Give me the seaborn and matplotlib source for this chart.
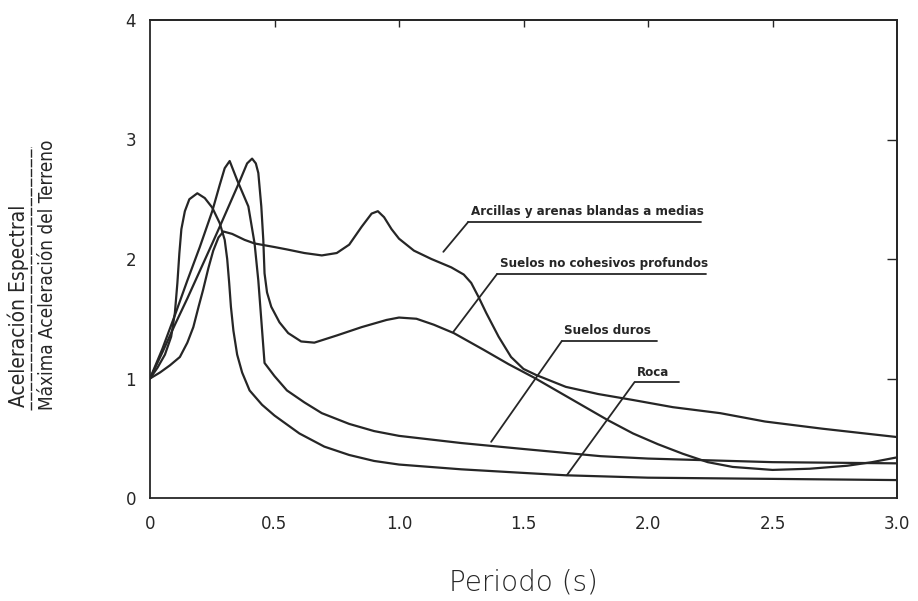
"""Espectros de respuesta normalizados por tipo de suelo (recreación con seaborn)."""

import pandas as pd
import matplotlib.pyplot as plt
from matplotlib.lines import Line2D
import seaborn as sns

# Valores: periodo (s) y aceleración espectral normalizada
roca_t = [0.00, 0.03, 0.06, 0.085, 0.10, 0.11, 0.118, 0.126, 0.14, 0.158, 0.19,
          0.22, 0.25, 0.28, 0.30, 0.31, 0.318, 0.325, 0.335, 0.35, 0.37, 0.40, 0.45,
          0.50, 0.60, 0.70, 0.80, 0.90, 1.00, 1.25, 1.50, 1.67, 2.00, 2.50, 3.00]
roca_sa = [1.00, 1.09, 1.20, 1.35, 1.55, 1.80, 2.05, 2.25, 2.40, 2.50, 2.55,
           2.51, 2.43, 2.30, 2.16, 2.00, 1.80, 1.60, 1.40, 1.20, 1.05, 0.90, 0.78,
           0.69, 0.54, 0.43, 0.36, 0.31, 0.28, 0.24, 0.21, 0.19, 0.17, 0.16, 0.15]

duros_t = [0.00, 0.05, 0.10, 0.15, 0.20, 0.25, 0.28, 0.30, 0.32, 0.35, 0.395, 0.42,
           0.435, 0.447, 0.46, 0.50, 0.55, 0.62, 0.69, 0.80, 0.90, 1.00, 1.25, 1.50,
           1.81, 2.00, 2.50, 3.00]
duros_sa = [1.00, 1.25, 1.53, 1.82, 2.10, 2.40, 2.62, 2.76, 2.82, 2.66, 2.44, 2.13,
            1.82, 1.49, 1.13, 1.02, 0.90, 0.80, 0.71, 0.62, 0.56, 0.52, 0.46, 0.41,
            0.35, 0.33, 0.30, 0.29]

nocoh_t = [0.00, 0.05, 0.10, 0.15, 0.20, 0.25, 0.28, 0.32, 0.36, 0.39, 0.41, 0.425,
           0.435, 0.447, 0.455, 0.46, 0.47, 0.487, 0.52, 0.555, 0.607, 0.66, 0.75,
           0.85, 0.95, 1.00, 1.07, 1.14, 1.22, 1.34, 1.44, 1.54, 1.64, 1.74, 1.84,
           1.94, 2.04, 2.14, 2.24, 2.34, 2.50, 2.65, 2.80, 2.90, 3.00]
nocoh_sa = [1.00, 1.22, 1.45, 1.67, 1.90, 2.13, 2.27, 2.46, 2.65, 2.80, 2.84, 2.80,
            2.72, 2.44, 2.16, 1.88, 1.72, 1.60, 1.47, 1.38, 1.31, 1.30, 1.36,
            1.43, 1.49, 1.51, 1.50, 1.45, 1.38, 1.24, 1.12, 1.01, 0.89, 0.77, 0.65,
            0.54, 0.45, 0.37, 0.30, 0.26, 0.235, 0.245, 0.27, 0.30, 0.34]

arcillas_t = [0.00, 0.04, 0.08, 0.12, 0.15, 0.174, 0.195, 0.213, 0.234, 0.254, 0.275,
              0.295, 0.33, 0.38, 0.42, 0.50, 0.55, 0.62, 0.69, 0.75, 0.80, 0.85, 0.89,
              0.915, 0.94, 0.97, 1.00, 1.06, 1.13, 1.21, 1.26, 1.29, 1.32, 1.35, 1.40,
              1.45, 1.50, 1.55, 1.67, 1.80, 1.94, 2.10, 2.29, 2.47, 2.70, 3.00]
arcillas_sa = [1.00, 1.05, 1.11, 1.18, 1.30, 1.43, 1.60, 1.74, 1.92, 2.07, 2.18,
               2.23, 2.21, 2.16, 2.13, 2.10, 2.08, 2.05, 2.03, 2.05, 2.12, 2.27, 2.38,
               2.40, 2.35, 2.25, 2.17, 2.07, 2.00, 1.93, 1.87, 1.80, 1.68, 1.55, 1.35,
               1.18, 1.08, 1.03, 0.93, 0.87, 0.82, 0.76, 0.71, 0.64, 0.58, 0.51]

suelos = ["Roca", "Suelos duros", "Suelos no cohesivos profundos",
          "Arcillas y arenas blandas a medias"]
x_ticks = [0, 0.5, 1.0, 1.5, 2.0, 2.5, 3.0]
x_tick_labels = ["0", "0.5", "1.0", "1.5", "2.0", "2.5", "3.0"]
y_ticks = [0, 1, 2, 3, 4]

# Tabla larga para seaborn
series = [(roca_t, roca_sa), (duros_t, duros_sa), (nocoh_t, nocoh_sa), (arcillas_t, arcillas_sa)]
frames = []
for nombre, (t, sa) in zip(suelos, series):
    frames.append(pd.DataFrame({"periodo": t, "sa": sa, "suelo": nombre}))
df = pd.concat(frames, ignore_index=True)

# Etiquetas: (texto, x izquierda, y subrayado, x fin subrayado, punta de la guía x, y)
etiquetas = [
    ("Arcillas y arenas blandas a medias", 1.278, 2.31, 2.214, 1.178, 2.06),
    ("Suelos no cohesivos profundos", 1.394, 1.875, 2.234, 1.218, 1.39),
    ("Suelos duros", 1.654, 1.314, 2.038, 1.37, 0.47),
    ("Roca", 1.946, 0.97, 2.126, 1.674, 0.19),
]

sns.set_theme(style="white")
plt.rcParams["font.family"] = ["DejaVu Sans"]
ink = "#262626"

fig = plt.figure(figsize=(9.18, 6.01), dpi=100)
ax = fig.add_axes([150 / 918, 103 / 601, 747 / 918, 478 / 601])

sns.lineplot(data=df, x="periodo", y="sa", hue="suelo", palette=[ink] * 4,
             sort=False, estimator=None, legend=False, linewidth=1.6, ax=ax)

for texto, x0, yu, x1, xp, yp in etiquetas:
    ax.plot([x0, x1], [yu, yu], color=ink, lw=1.3)
    ax.plot([x0, xp], [yu, yp], color=ink, lw=1.3)
    ax.text(x0 + 0.01, yu + 0.03, texto, ha="left", va="bottom", fontsize=9.5,
            fontweight="bold", fontstretch="condensed", color=ink)

ax.set_xlim(0, 3.0)
ax.set_ylim(0, 4)
ax.set_xticks(x_ticks)
ax.set_xticklabels(x_tick_labels)
ax.set_yticks(y_ticks)
ax.set_xlabel("")
ax.set_ylabel("")
for s in ax.spines.values():
    s.set_linewidth(1.3)
    s.set_color(ink)
ax.tick_params(axis="both", direction="in", length=8, width=1.1, color=ink,
               labelsize=12, labelcolor=ink)
ax.tick_params(axis="x", pad=12)
ax.tick_params(axis="y", pad=10)

# Marcas interiores en los lados superior y derecho
top = ax.secondary_xaxis("top")
top.set_xticks(x_ticks[1:-1])
top.tick_params(direction="in", length=5, width=1.0, color=ink, labeltop=False)
right = ax.secondary_yaxis("right")
right.set_yticks(y_ticks[1:-1])
right.tick_params(direction="in", length=7, width=1.0, color=ink, labelright=False)

fig.text((150 + 897) / 2 / 918, 1 - 582 / 601, "Periodo (s)", ha="center", va="center",
         fontsize=20, fontweight="light", color=ink)

# Etiqueta del eje y en forma de cociente
fig.text(18 / 918, 1 - 407 / 601, "Aceleración Espectral", rotation=90, ha="center",
         va="bottom", fontsize=15, fontstretch="condensed", color=ink)
fig.text(48 / 918, 1 - 410 / 601, "Máxima Aceleración del Terreno", rotation=90,
         ha="center", va="bottom", fontsize=13.6, fontstretch="condensed", color=ink)
fig.add_artist(Line2D([31 / 918, 31 / 918], [1 - 410 / 601, 1 - 147 / 601],
                      transform=fig.transFigure, color=ink, lw=1.0, ls=(0, (6, 1))))

fig.savefig("out.png", dpi=100, facecolor="white")
